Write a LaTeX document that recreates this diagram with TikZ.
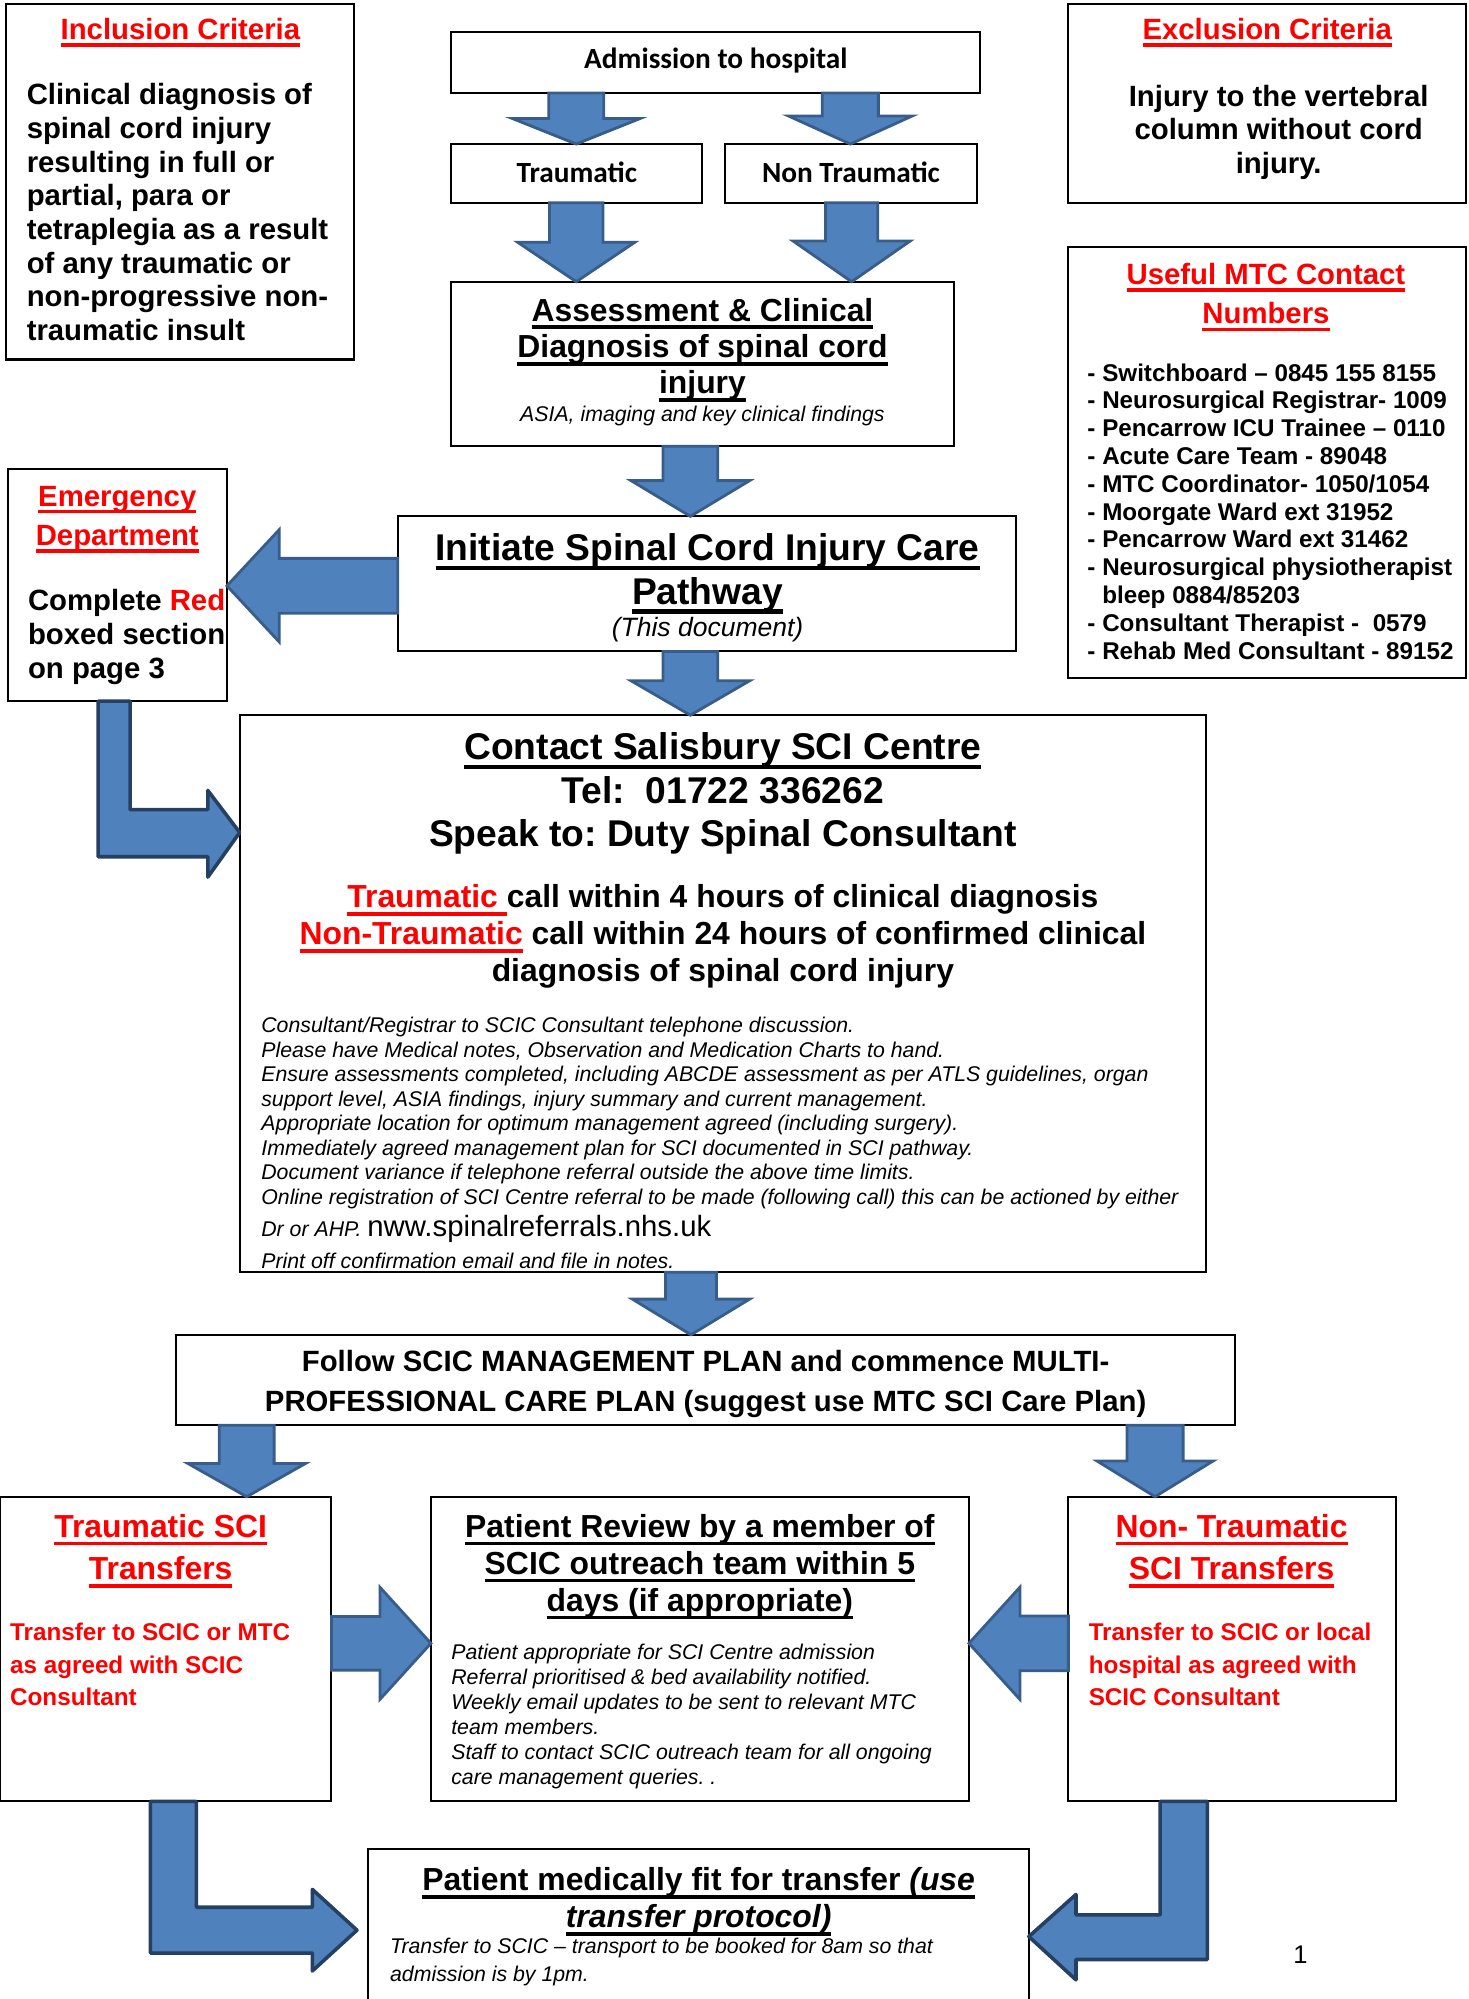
\documentclass[tikz,border=0pt]{standalone}
\usepackage{fontspec}
\setmainfont{Liberation Sans}
\newfontfamily\calibri{Carlito}
\usepackage{xcolor}
\usepackage{tikz}
\usetikzlibrary{calc}
\definecolor{myblue}{RGB}{79, 129, 189}
\definecolor{myline}{RGB}{56, 93, 138}
\definecolor{mynavy}{RGB}{38, 64, 100}
\definecolor{myred}{RGB}{255, 0, 0}
\frenchspacing

\newcommand{\fsz}[2]{\fontsize{#1}{#2}\selectfont}
\newcommand{\ulx}[1]{\setbox0=\hbox{#1}\rlap{\rule[-0.25em]{\wd0}{0.12em}}\box0}

\tikzset{
  box/.style={draw=black, line width=0.8pt, inner sep=0pt, outer sep=0pt},
  txt/.style={inner sep=0pt, outer sep=0pt},
  blockarrow/.style={fill=myblue, draw=myline, line width=1.1pt, line join=miter},
  bentarrow/.style={fill=myblue, draw=mynavy, line width=1.4pt, line join=round}
}

% block arrows: x/y, from node, to node, head length, shaft half, head half
\newcommand{\arrdown}[6]{%
  \draw[blockarrow] (#1-#5,0 |- #2.south) -- (#1+#5,0 |- #2.south)
    -- ($(#1,0 |- #3.north)+(#5,-#4)$) -- ($(#1,0 |- #3.north)+(#6,-#4)$)
    -- (#1,0 |- #3.north)
    -- ($(#1,0 |- #3.north)+(-#6,-#4)$) -- ($(#1,0 |- #3.north)+(-#5,-#4)$) -- cycle;}
\newcommand{\arrleft}[6]{%
  \draw[blockarrow] (#2.west |- 0,#1-#5) -- ($(#3.east |- 0,#1)+(#4,-#5)$)
    -- ($(#3.east |- 0,#1)+(#4,-#6)$) -- (#3.east |- 0,#1)
    -- ($(#3.east |- 0,#1)+(#4,#6)$) -- ($(#3.east |- 0,#1)+(#4,#5)$)
    -- (#2.west |- 0,#1+#5) -- cycle;}
\newcommand{\arrright}[6]{%
  \draw[blockarrow] (#2.east |- 0,#1-#5) -- ($(#3.west |- 0,#1)+(-#4,-#5)$)
    -- ($(#3.west |- 0,#1)+(-#4,-#6)$) -- (#3.west |- 0,#1)
    -- ($(#3.west |- 0,#1)+(-#4,#6)$) -- ($(#3.west |- 0,#1)+(-#4,#5)$)
    -- (#2.east |- 0,#1+#5) -- cycle;}

\begin{document}
\begin{tikzpicture}[x=0.5pt, y=-0.5pt]
    \useasboundingbox (0,0) rectangle (1152,1568);

    % boxes
    \node[box, minimum width=136.5pt, minimum height=139.5pt] (incl) at (141.5,142.5) {};
    \node[box, minimum width=207.5pt, minimum height=24pt] (adm) at (561.5,49) {};
    \node[box, minimum width=98.5pt, minimum height=23pt] (trau) at (452.5,136) {};
    \node[box, minimum width=98.5pt, minimum height=23pt] (nontrau) at (667.5,136) {};
    \node[box, minimum width=197pt, minimum height=64.5pt] (assess) at (551,285.5) {};
    \node[box, minimum width=156pt, minimum height=78pt] (excl) at (994,81) {};
    \node[box, minimum width=156pt, minimum height=169pt] (mtc) at (994,363) {};
    \node[box, minimum width=242.5pt, minimum height=53pt] (init) at (554.5,458) {};
    \node[box, minimum width=86pt, minimum height=91pt] (emerg) at (92,459) {};
    \node[box, minimum width=379pt, minimum height=218.5pt] (contact) at (567,779.5) {};
    \node[box, minimum width=415.5pt, minimum height=35.5pt] (follow) at (553.5,1082.5) {};
    \node[box, minimum width=130pt, minimum height=119.5pt] (tsci) at (130,1293.5) {};
    \node[box, minimum width=211pt, minimum height=119.5pt] (review) at (549,1293.5) {};
    \node[box, minimum width=128.5pt, minimum height=119.5pt] (ntsci) at (966.5,1293.5) {};
    \node[box, minimum width=259pt, minimum height=90pt] (fit) at (548,1540) {};

    % criteria (multi-line texts sit on their last baseline)
    \node[txt, anchor=base, text=myred, font=\fsz{11.5}{13.2}\bfseries] (incltitle) at (141.5,31) {\ulx{Inclusion Criteria}};
    \node[txt, anchor=base west, align=left, font=\fsz{11.5}{13.2}\bfseries] (incltext) at (21,267)
        {Clinical diagnosis of\\spinal cord injury\\resulting in full or\\partial, para or\\tetraplegia as a result\\of any traumatic or\\non-progressive non-\\traumatic insult};
    \node[txt, anchor=base, text=myred, font=\fsz{11.5}{13.2}\bfseries] (excltitle) at (994,31) {\ulx{Exclusion Criteria}};
    \node[txt, anchor=base, align=center, font=\fsz{11.5}{13.2}\bfseries] (excltext) at (1003,136)
        {Injury to the vertebral\\column without cord\\injury.};

    % contact numbers
    \node[txt, anchor=base, align=center, text=myred, font=\fsz{11.5}{15.5}\bfseries] (mtctitle) at (993,254)
        {\ulx{Useful MTC Contact}\\\ulx{Numbers}};
    \node[txt, anchor=base west, align=left, font=\fsz{9.5}{10.9}\bfseries] (mtclist) at (853,517)
        {- Switchboard -- 0845 155 8155\\- Neurosurgical Registrar- 1009\\- Pencarrow ICU Trainee -- 0110\\- Acute Care Team - 89048\\- MTC Coordinator- 1050/1054\\- Moorgate Ward ext 31952\\- Pencarrow Ward ext 31462\\- Neurosurgical physiotherapist\\\hphantom{-~}bleep 0884/85203\\- Consultant Therapist -\ \ 0579\\- Rehab Med Consultant - 89152};

    % admission
    \node[txt, anchor=base, font=\fsz{11.5}{13}\calibri\bfseries] (admtext) at (561.5,54) {Admission to hospital};
    \node[txt, anchor=base, font=\fsz{11.5}{13}\calibri\bfseries] (trautext) at (452.5,143) {Traumatic};
    \node[txt, anchor=base, font=\fsz{11.5}{13}\calibri\bfseries] (nontrautext) at (667.5,143) {Non Traumatic};
    \node[txt, anchor=base, align=center, font=\fsz{12.5}{14.25}\bfseries] (assesstitle) at (551,309)
        {\ulx{Assessment \& Clinical}\\\ulx{Diagnosis of spinal cord}\\\ulx{injury}};
    \node[txt, anchor=base, font=\fsz{8.35}{9.6}\itshape] (assesssub) at (551,331) {ASIA, imaging and key clinical findings};

    % pathway
    \node[txt, anchor=base, align=center, font=\fsz{14.6}{17}\bfseries] (inittitle) at (555,474)
        {\ulx{Initiate Spinal Cord Injury Care}\\\ulx{Pathway}};
    \node[txt, anchor=base, font=\fsz{10.4}{12}\itshape] (initsub) at (555,499) {(This document)};
    \node[txt, anchor=base, align=center, text=myred, font=\fsz{11.5}{15.5}\bfseries] (emergtitle) at (92,428)
        {\ulx{Emergency}\\\ulx{Department}};
    \node[txt, anchor=base west, align=left, font=\fsz{11.5}{13.25}\bfseries] (emergtext) at (22,532)
        {Complete {\color{myred}Red}\\boxed section\\on page 3};

    % salisbury
    \node[txt, anchor=base, align=center, font=\fsz{14.6}{17}\bfseries] (contacttitle) at (567,664)
        {\ulx{Contact Salisbury SCI Centre}\\Tel:\ \ 01722 336262\\Speak to: Duty Spinal Consultant};
    \node[txt, anchor=base, align=center, font=\fsz{12.5}{14.5}\bfseries] (contactcall) at (567,770)
        {{\color{myred}\ulx{Traumatic }}call within 4 hours of clinical diagnosis\\{\color{myred}\ulx{Non-Traumatic}} call within 24 hours of confirmed clinical\\diagnosis of spinal cord injury};
    \node[txt, anchor=base west, align=left, font=\fsz{8.35}{9.6}\itshape] (contactlist) at (205,944.5)
        {Consultant/Registrar to SCIC Consultant telephone discussion.\\Please have Medical notes, Observation and Medication Charts to hand.\\Ensure assessments completed, including ABCDE assessment as per ATLS guidelines, organ\\support level, ASIA findings, injury summary and current management.\\Appropriate location for optimum management agreed (including surgery).\\Immediately agreed management plan for SCI documented in SCI pathway.\\Document variance if telephone referral outside the above time limits.\\Online registration of SCI Centre referral to be made (following call) this can be actioned by either};
    \node[txt, anchor=base west, font=\fsz{8.35}{9.6}\itshape] (contacturl) at (205,970)
        {Dr or AHP. {\upshape\fsz{11.5}{13}nww.spinalreferrals.nhs.uk}};
    \begin{scope}
        \clip (contact.north west) rectangle ([yshift=0.5pt]contact.south east);
        \node[txt, anchor=base west, font=\fsz{8.35}{9.6}\itshape] (contactlast) at (205,995)
            {Print off confirmation email and file in notes.};
    \end{scope}

    % care plan
    \node[txt, anchor=base, align=center, font=\fsz{11.5}{15.5}\bfseries] (followtext) at (553.5,1107)
        {Follow SCIC MANAGEMENT PLAN and commence MULTI-\\PROFESSIONAL CARE PLAN (suggest use MTC SCI Care Plan)};

    % transfers
    \node[txt, anchor=base, align=center, text=myred, font=\fsz{12.5}{16.5}\bfseries] (tscititle) at (126,1239)
        {\ulx{Traumatic SCI}\\\ulx{Transfers}};
    \node[txt, anchor=base west, align=left, text=myred, font=\fsz{9.5}{12.75}\bfseries] (tscitext) at (8,1338)
        {Transfer to SCIC or MTC\\as agreed with SCIC\\Consultant};
    \node[txt, anchor=base, align=center, font=\fsz{12.5}{14.5}\bfseries] (reviewtitle) at (549,1264)
        {\ulx{Patient Review by a member of}\\\ulx{SCIC outreach team within 5}\\\ulx{days (if appropriate)}};
    \node[txt, anchor=base west, align=left, font=\fsz{8.35}{9.75}\itshape] (reviewtext) at (354,1399.5)
        {Patient appropriate for SCI Centre admission\\Referral prioritised \& bed availability notified.\\Weekly email updates to be sent to relevant MTC\\team members.\\Staff to contact SCIC outreach team for all ongoing\\care management queries. .};
    \node[txt, anchor=base, align=center, text=myred, font=\fsz{12.5}{16.5}\bfseries] (ntscititle) at (966,1239)
        {\ulx{Non- Traumatic}\\\ulx{SCI Transfers}};
    \node[txt, anchor=base west, align=left, text=myred, font=\fsz{9.5}{12.75}\bfseries] (ntscitext) at (854,1338)
        {Transfer to SCIC or local\\hospital as agreed with\\SCIC Consultant};
    \node[txt, anchor=base, align=center, font=\fsz{12.5}{14.5}\bfseries] (fittitle) at (548,1512)
        {\ulx{Patient medically fit for transfer \textit{(use}}\\\ulx{\textit{transfer protocol)}}};
    \node[txt, anchor=base west, align=left, font=\fsz{8.35}{10.8}\itshape] (fittext) at (306,1554)
        {Transfer to SCIC -- transport to be booked for 8am so that\\admission is by 1pm.};
    \node[txt, anchor=base, font=\fsz{10}{12}] (pagenum) at (1020,1540) {1};

    % straight arrows
    \arrdown{452}{adm}{trau}{20}{21.5}{50}
    \arrdown{667}{adm}{nontrau}{22}{22}{48.5}
    \arrdown{452}{trau}{assess}{31}{21}{46}
    \arrdown{668}{nontrau}{assess}{32}{20.5}{46}
    \arrdown{541.5}{assess}{init}{28}{21.5}{46.5}
    \arrdown{541.5}{init}{contact}{27}{21.5}{46.5}
    \arrdown{542}{contact}{follow}{28}{20}{46}
    \arrdown{193.5}{follow}{tsci}{26}{21.5}{46}
    \arrdown{906}{follow}{ntsci}{28}{22}{45.5}
    \arrleft{459.5}{init}{emerg}{41}{21.5}{44}
    \arrright{1289}{tsci}{review}{40}{21}{44}
    \arrleft{1289}{ntsci}{review}{40}{21.5}{44}

    % bent arrows
    \draw[bentarrow] (77,0 |- emerg.south) -- (102,0 |- emerg.south) -- (102,635) -- (163,635) -- (163,620)
        -- (contact.west |- 0,653) -- (163,688) -- (163,672) -- (77,672) -- cycle;
    \draw[bentarrow] (118,0 |- tsci.south) -- (154,0 |- tsci.south) -- (154,1496) -- (245,1496) -- (245,1482)
        -- ($(fit.west |- 0,1514)+(-9,0)$) -- (245,1546) -- (245,1532) -- (118,1532) -- cycle;
    \draw[bentarrow] (910,0 |- ntsci.south) -- (947,0 |- ntsci.south) -- (947,1537) -- (844,1537) -- (844,1553)
        -- (fit.east |- 0,1519) -- (844,1486) -- (844,1502) -- (910,1502) -- cycle;
\end{tikzpicture}
\end{document}
